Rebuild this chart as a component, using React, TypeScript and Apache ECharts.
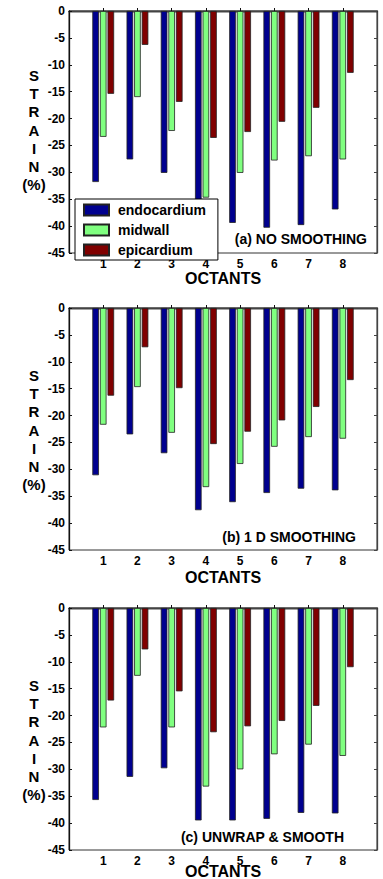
import React, { useEffect, useRef } from "react";
import * as echarts from "echarts";

const octants = ["1", "2", "3", "4", "5", "6", "7", "8"];
const yTicks = { min: -45, max: 0, step: 5 };
const seriesNames = ["endocardium", "midwall", "epicardium"];

// (a) NO SMOOTHING
const endoA = [-31.8, -27.6, -30.1, -38.0, -39.4, -40.3, -39.8, -36.9];
const midA = [-23.4, -16.0, -22.3, -34.7, -30.1, -27.8, -27.0, -27.6];
const epiA = [-15.4, -6.3, -16.9, -23.6, -22.5, -20.6, -18.0, -11.5];
// (b) 1 D SMOOTHING
const endoB = [-31.1, -23.5, -27.0, -37.6, -36.1, -34.4, -33.6, -33.9];
const midB = [-21.7, -14.7, -23.2, -33.3, -29.0, -25.8, -24.0, -24.3];
const epiB = [-16.3, -7.3, -14.9, -25.3, -23.0, -20.9, -18.4, -13.4];
// (c) UNWRAP & SMOOTH
const endoC = [-35.7, -31.4, -29.8, -39.5, -39.5, -39.2, -38.1, -38.2];
const midC = [-22.2, -12.6, -22.2, -33.2, -30.0, -27.2, -25.4, -27.5];
const epiC = [-17.2, -7.7, -15.5, -23.1, -22.0, -21.0, -18.2, -11.0];

const panelTitles = ["(a) NO SMOOTHING", "(b) 1 D SMOOTHING", "(c) UNWRAP & SMOOTH"];
const panelData = [
  [endoA, midA, epiA],
  [endoB, midB, epiB],
  [endoC, midC, epiC],
];

const colors = ["#00008F", "#80FF80", "#800000"];
const FONT = "'Liberation Sans', Arial, Helvetica, sans-serif";

export default function App() {
  const ref = useRef<HTMLDivElement>(null);
  useEffect(() => {
    if (!ref.current) return;
    const chart = echarts.init(ref.current, undefined, { renderer: "svg" });
    const axisData = ["", ...octants, ""];
    const tops = [11, 308, 608];
    const gridLeft = 69;
    const gridWidth = 308;
    const gridHeight = 242;

    const grids = tops.map((t) => ({
      left: gridLeft,
      top: t,
      width: gridWidth,
      height: gridHeight,
      show: true,
      borderColor: "#333",
      borderWidth: 1,
      backgroundColor: "#fff",
    }));

    const xAxes: any[] = [];
    const yAxes: any[] = [];
    for (let i = 0; i < 3; i++) {
      xAxes.push({
        type: "category",
        gridIndex: i,
        data: axisData,
        boundaryGap: false,
        position: "bottom",
        axisLine: { lineStyle: { color: "#111", width: 1.3 } },
        axisTick: {
          show: true,
          inside: true,
          length: 3,
          interval: (idx: number) => idx > 0 && idx < axisData.length - 1,
          lineStyle: { color: "#111" },
        },
        axisLabel: {
          color: "#000",
          fontWeight: "bold",
          fontSize: 12,
          fontFamily: FONT,
          margin: 5,
          interval: 0,
        },
        splitLine: { show: false },
      });
      yAxes.push({
        type: "value",
        gridIndex: i,
        min: yTicks.min,
        max: yTicks.max,
        interval: yTicks.step,
        position: "left",
        axisLine: { show: true, lineStyle: { color: "#111", width: 1.3 } },
        axisTick: { show: true, inside: true, length: 3, lineStyle: { color: "#111" } },
        axisLabel: {
          color: "#000",
          fontWeight: "bold",
          fontSize: 12,
          fontFamily: FONT,
          margin: 4,
        },
        splitLine: { show: false },
      });
    }
    for (let i = 0; i < 3; i++) {
      xAxes.push({
        type: "category",
        gridIndex: i,
        data: axisData,
        boundaryGap: false,
        position: "top",
        axisLine: { lineStyle: { color: "#444", width: 1.3 } },
        axisTick: {
          show: true,
          inside: true,
          length: 3,
          interval: (idx: number) => idx > 0 && idx < axisData.length - 1,
          lineStyle: { color: "#444" },
        },
        axisLabel: { show: false },
        splitLine: { show: false },
      });
      yAxes.push({
        type: "value",
        gridIndex: i,
        min: yTicks.min,
        max: yTicks.max,
        interval: yTicks.step,
        position: "right",
        axisLine: { show: true, lineStyle: { color: "#444", width: 1.3 } },
        axisTick: { show: true, inside: true, length: 3, lineStyle: { color: "#444" } },
        axisLabel: { show: false },
        splitLine: { show: false },
      });
    }

    const series: any[] = [];
    for (let p = 0; p < 3; p++) {
      for (let s = 0; s < 3; s++) {
        series.push({
          type: "bar",
          name: seriesNames[s],
          xAxisIndex: p,
          yAxisIndex: p,
          data: [null, ...panelData[p][s], null],
          barWidth: 6.6,
          barGap: "15%",
          itemStyle: { color: colors[s], borderColor: "#222", borderWidth: 0.8 },
          emphasis: { disabled: true },
        });
      }
    }

    const yLabelCenters = [130, 430, 740];
    const titleRight = [367, 356, 344];
    const titleY = [239, 537, 837];
    const octantsY = [278, 577, 871];

    const graphic: any[] = [];
    for (let p = 0; p < 3; p++) {
      graphic.push({
        type: "text",
        x: 34,
        y: yLabelCenters[p],
        z: 10,
        style: {
          text: "S\nT\nR\nA\nI\nN\n(%)",
          fill: "#000",
          font: `bold 15px ${FONT}`,
          lineHeight: 18.3,
          align: "center",
          verticalAlign: "middle",
        },
      });
      graphic.push({
        type: "text",
        x: titleRight[p],
        y: titleY[p],
        z: 10,
        style: {
          text: panelTitles[p],
          fill: "#000",
          font: `bold 14px ${FONT}`,
          align: "right",
          verticalAlign: "middle",
        },
      });
      graphic.push({
        type: "text",
        x: 223,
        y: octantsY[p],
        z: 10,
        style: {
          text: "OCTANTS",
          fill: "#000",
          font: `bold 16px ${FONT}`,
          align: "center",
          verticalAlign: "middle",
        },
      });
    }

    chart.setOption({
      animation: false,
      backgroundColor: "#fff",
      grid: grids,
      xAxis: xAxes,
      yAxis: yAxes,
      series,
      legend: {
        data: seriesNames,
        orient: "vertical",
        left: 75,
        top: 199,
        itemWidth: 25,
        itemHeight: 11,
        itemGap: 6,
        padding: [4, 12, 3, 8],
        backgroundColor: "#fff",
        borderColor: "#000",
        borderWidth: 1,
        icon: "rect",
        selectedMode: false,
        textStyle: {
          color: "#000",
          fontWeight: "bold",
          fontSize: 14,
          fontFamily: FONT,
          padding: [0, 0, 0, 4],
        },
      },
      graphic,
    });
    return () => chart.dispose();
  }, []);

  return (
    <div
      ref={ref}
      style={{ position: "fixed", left: 0, top: 0, width: 383, height: 879, background: "#fff" }}
    />
  );
}
